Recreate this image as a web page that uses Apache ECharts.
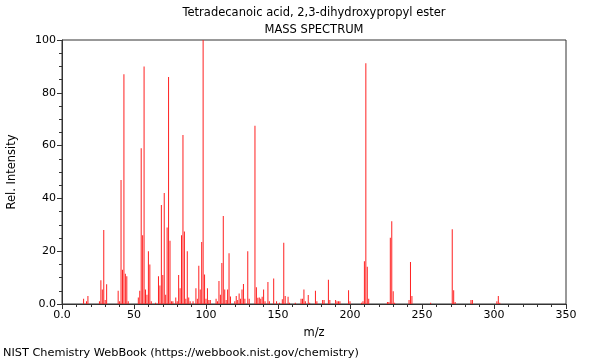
<!DOCTYPE html>
<html><head><meta charset="utf-8">
<script src="https://cdn.jsdelivr.net/npm/echarts@6/dist/echarts.min.js"></script>
<style>html,body{margin:0;padding:0;background:#fff}#c{width:600px;height:360px}</style>
</head><body><div id="c"></div>
<script>
const titleText = 'Tetradecanoic acid, 2,3-dihydroxypropyl ester';
const subtitleText = 'MASS SPECTRUM';
const footerText = 'NIST Chemistry WebBook (https://webbook.nist.gov/chemistry)';
const xTicks = [0, 50, 100, 150, 200, 250, 300, 350];
const yTicks = [0, 20, 40, 60, 80, 100];
const mz = [15,17,18,26,27,28,29,30,31,39,40,41,42,43,44,45,46,53,54,55,56,57,58,59,60,61,62,65,67,68,69,70,71,72,73,74,75,76,77,79,80,81,82,83,84,85,86,87,88,89,91,93,94,95,96,97,98,99,100,101,102,103,107,108,109,110,111,112,113,114,115,116,117,120,121,122,123,124,125,126,127,129,130,134,135,136,137,138,139,140,141,143,144,147,149,151,153,154,155,157,158,162,166,167,168,169,171,172,176,177,181,182,185,186,190,191,192,193,199,200,208,209,210,211,212,213,226,227,228,229,230,231,241,242,243,256,271,272,273,284,285,302,303,304];
const intensity = [2,1,3,1,9,5.5,28,1.5,7.5,5,1,47,13,87,11.5,10.5,1,2.5,5,59,26,90,5.5,3.5,20,15,1,0.5,10.5,7,37.5,11,42,3.5,29,86,24,1,1,2.5,1,11,6,26,64,27.5,2,20,2.5,1,1,6,2,14.5,5.5,23.5,100,11.2,2,6,1.5,1.5,2,1,8.7,3.5,15.5,33.3,5.5,1.5,5.5,19.2,2.8,1,3,1.5,4,2,5.5,7.6,2,20,2,67.5,6.3,2.4,2.5,2,2.7,5.5,1,8.3,1,9.7,1,0.5,1.8,23.2,3,2.7,0.5,0.5,2,2,5.5,1,3.4,0.5,5,1,1.5,1.5,9.2,1.5,1.5,1,1,1,5.2,1,0.5,1,16.2,91.2,14.1,2,0.8,0.8,25.1,31.3,4.8,0.5,1.5,15.9,3,0.5,28.3,5.2,0.8,1.5,1.5,1,3,0.5];

const data = mz.map((m, i) => [m, intensity[i]]);
const fmt = v => (v === 0 ? '0.0' : String(v));
const chart = echarts.init(document.getElementById('c'), null, {renderer: 'canvas'});
const F = 'DejaVu Sans';
const TF = '11.5px "DejaVu Sans"';
const FF = '11.3px "DejaVu Sans"';
chart.setOption({
  animation: false,
  textStyle: {fontFamily: F},
  grid: {left: 62, right: 34, top: 40, bottom: 56, containLabel: false, outerBoundsMode: 'none', show: true, borderColor: '#333', borderWidth: 1, backgroundColor: 'transparent'},
  xAxis: {
    type: 'value', min: xTicks[0], max: xTicks[xTicks.length-1], interval: 50,
    name: 'm/z', nameLocation: 'middle', nameGap: 23,
    nameTextStyle: {fontFamily: F, fontSize: 11.5, color: '#000'},
    axisLine: {show: true, onZero: false, lineStyle: {color: '#333'}},
    axisTick: {show: true, length: 5, lineStyle: {color: '#333'}},
    minorTick: {show: true, splitNumber: 5, length: 3, lineStyle: {color: '#333'}},
    splitLine: {show: false},
    axisLabel: {fontFamily: F, fontSize: 11, color: '#000', margin: 6, formatter: fmt}
  },
  yAxis: {
    type: 'value', min: yTicks[0], max: yTicks[yTicks.length-1], interval: 20,
    name: 'Rel. Intensity', nameLocation: 'middle', nameGap: 44, nameRotate: 90,
    nameTextStyle: {fontFamily: F, fontSize: 11.5, color: '#000'},
    axisLine: {show: true, lineStyle: {color: '#333'}},
    axisTick: {show: true, length: 5, lineStyle: {color: '#333'}},
    minorTick: {show: true, splitNumber: 4, length: 3, lineStyle: {color: '#333'}},
    splitLine: {show: false},
    axisLabel: {fontFamily: F, fontSize: 11, color: '#000', margin: 6, formatter: fmt}
  },
  graphic: [
    {type: 'text', x: 314, y: 13, silent: true, style: {text: titleText, font: TF, fill: '#000', textAlign: 'center', textVerticalAlign: 'middle'}},
    {type: 'text', x: 314, y: 30, silent: true, style: {text: subtitleText, font: TF, fill: '#000', textAlign: 'center', textVerticalAlign: 'middle'}},
    {type: 'text', x: 3, y: 353, silent: true, style: {text: footerText, font: FF, fill: '#000', textAlign: 'left', textVerticalAlign: 'middle'}}
  ],
  series: [{
    type: 'custom',
    data: data,
    encode: {x: 0, y: 1},
    renderItem: function (params, api) {
      const top = api.coord([api.value(0), api.value(1)]);
      const base = api.coord([api.value(0), 0]);
      return {type: 'rect', shape: {x: top[0] - 0.5, y: top[1], width: 1, height: base[1] - top[1]}, style: {fill: '#ff2020'}};
    }
  }]
});
</script></body></html>
